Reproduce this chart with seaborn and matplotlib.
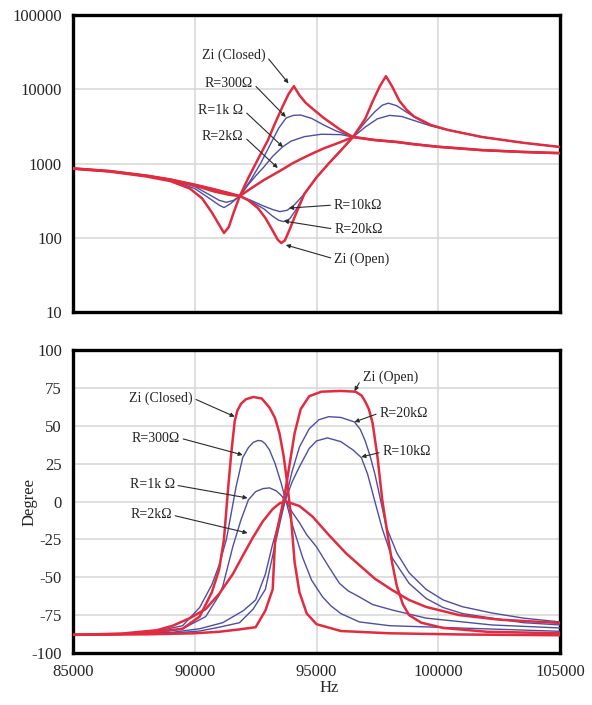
import numpy as np
import pandas as pd
import matplotlib
matplotlib.use("Agg")
import matplotlib.pyplot as plt
import seaborn as sns

# ---------------- impedance magnitude (top panel) ----------------
# frequencies in kHz, magnitudes in ohm
mag_open_f = [85, 86.5, 88, 89, 90, 90.8, 91.4, 91.85, 92.2, 92.6, 92.9, 93.2, 93.4, 93.55,
              93.7, 93.9, 94.1, 94.5, 95.0, 95.5, 96.0, 96.5, 97.0, 97.3, 97.6, 97.85, 98.1,
              98.4, 98.7, 99.0, 99.7, 100.4, 101.8, 103.5, 105]
mag_open = [860, 790, 690, 610, 520, 450, 400, 365, 320, 250, 185, 125, 95, 85,
            92, 130, 190, 390, 650, 1000, 1500, 2275, 4000, 6800, 11000, 15000, 11000,
            7000, 5300, 4300, 3300, 2830, 2275, 1900, 1670]

mag_20k_f = [85, 86.5, 88, 89, 90, 90.8, 91.4, 91.85, 92.3, 92.84, 93.2, 93.45, 93.65, 93.9,
             94.2, 94.5, 95.0, 95.5, 96.0, 96.5, 97.0, 97.4, 97.7, 97.95, 98.3, 98.7, 99.2,
             99.7, 100.4, 101.8, 103.5, 105]
mag_20k = [860, 790, 690, 610, 520, 450, 400, 365, 310, 245, 195, 172, 165, 180,
           250, 385, 650, 1000, 1500, 2275, 3600, 5000, 6100, 6500, 6000, 4900, 3900,
           3250, 2830, 2275, 1900, 1670]

mag_10k_f = [85, 86.5, 88, 89, 90, 90.8, 91.4, 91.85, 92.3, 92.8, 93.2, 93.5, 93.8, 94.1,
             94.5, 95.0, 95.5, 96.0, 96.5, 97.0, 97.5, 98.0, 98.5, 99.0, 99.7, 100.4,
             101.8, 103.5, 105]
mag_10k = [860, 790, 690, 610, 520, 450, 400, 365, 320, 270, 240, 225, 235, 280,
           390, 650, 1000, 1500, 2275, 3100, 4000, 4450, 4300, 3800, 3200, 2830,
           2275, 1900, 1670]

mag_closed_f = [85, 86.5, 88, 89, 89.8, 90.3, 90.7, 91.0, 91.2, 91.4, 91.6, 91.85, 92.2, 92.6,
                93.0, 93.3, 93.6, 93.85, 94.07, 94.3, 94.55, 94.8, 95.3, 96.0, 96.5, 97.4,
                98.3, 99.0, 100.0, 101.8, 103.5, 105]
mag_closed = [850, 780, 670, 580, 460, 340, 220, 150, 116, 140, 220, 365, 640, 1150,
              2050, 3500, 5800, 8600, 11000, 8300, 6600, 5600, 4100, 2820, 2275, 2070,
              1950, 1820, 1680, 1515, 1430, 1380]

mag_300_f = [85, 86.5, 88, 89, 90, 90.6, 91.0, 91.2, 91.45, 91.85, 92.3, 92.7, 93.1, 93.45,
             93.75, 94.05, 94.35, 94.8, 95.3, 95.8, 96.5, 97.4, 98.3, 99.0, 100.0, 101.8,
             103.5, 105]
mag_300 = [855, 785, 680, 600, 460, 340, 275, 255, 285, 365, 600, 1000, 1800, 3000,
           4100, 4450, 4500, 4050, 3300, 2750, 2275, 2070, 1950, 1820, 1680, 1515,
           1430, 1380]

mag_1k_f = [85, 86.5, 88, 89, 90, 90.6, 91.0, 91.3, 91.6, 91.85, 92.2, 92.5, 92.84, 93.2,
            93.6, 93.95, 94.5, 95.2, 96.0, 96.5, 97.4, 98.3, 99.0, 100.0, 101.8, 103.5, 105]
mag_1k = [857, 788, 683, 603, 490, 380, 320, 300, 320, 365, 520, 680, 900, 1250,
          1670, 2000, 2300, 2480, 2450, 2275, 2070, 1950, 1820, 1680, 1515, 1430, 1380]

mag_2k_f = [85, 86.5, 88, 89, 90, 90.8, 91.4, 91.85, 92.3, 92.84, 93.2, 93.54, 94.0, 94.36,
            94.8, 95.3, 96.0, 96.5, 97.4, 98.3, 99.0, 100.0, 101.8, 103.5, 105]
mag_2k = [858, 790, 685, 605, 505, 420, 380, 365, 460, 600, 700, 810, 1000, 1150,
          1350, 1600, 1950, 2275, 2070, 1950, 1820, 1680, 1515, 1430, 1380]

# ---------------- impedance phase (bottom panel) ----------------
ph_closed_f = [85, 87, 88.5, 89.5, 90.2, 90.7, 91.0, 91.2, 91.35, 91.5, 91.64, 91.75, 91.9,
               92.1, 92.4, 92.75, 93.07, 93.3, 93.48, 93.65, 93.8, 93.95, 94.1, 94.3, 94.6,
               95.0, 96.0, 98.0, 101.0, 105.0]
ph_closed = [-88, -87.5, -86, -84, -76, -60, -45, -25, 5, 32, 53, 60, 64.5,
             67.5, 69, 68, 62, 55, 45, 30, 12, -10, -40, -60, -74,
             -81, -85.5, -87, -87.8, -88.3]

ph_300_f = [85, 87, 88.5, 89.5, 90.2, 90.7, 91.0, 91.3, 91.7, 91.97, 92.2, 92.4, 92.6,
            92.75, 92.9, 93.07, 93.3, 93.55, 93.75, 94.0, 94.43, 94.8, 95.25, 95.6, 96.0,
            96.76, 98.0, 100.86, 105.0]
ph_300 = [-88, -87.3, -85.5, -82, -70, -55, -42, -25, 10, 29, 35.5, 39, 40.3,
          40, 38, 34, 25, 12, 0, -15, -37, -52, -63, -69, -74,
          -79.5, -82, -83.5, -85.7]

ph_1k_f = [85, 87, 88.5, 89.5, 90.45, 91.0, 91.15, 91.56, 91.9, 92.2, 92.5, 92.8, 93.07,
           93.35, 93.55, 93.75, 94.0, 94.3, 94.6, 95.0, 95.5, 95.94, 96.3, 96.76, 97.3,
           98.1, 99.5, 102.2, 105.0]
ph_1k = [-88, -87.5, -86.5, -84, -76, -62, -56, -30, -12, 1, 6.5, 8.5, 9,
         7, 4, 0, -7, -14, -22, -30, -43, -54, -59, -63, -68,
         -71.6, -77, -81.5, -83.5]

ph_2k_f = [85, 87, 88.44, 89.1, 89.8, 90.45, 91.0, 91.56, 92.0, 92.38, 92.8, 93.2, 93.5,
           93.75, 94.3, 94.84, 95.5, 96.2, 96.76, 97.4, 98.1, 98.8, 99.5, 100.86, 102.5,
           105.0]
ph_2k = [-88, -87.2, -85, -82, -77, -71, -61, -48, -35, -24, -13, -5, -1,
         0, -3, -10, -22, -34, -42, -51, -58.4, -65, -69.6, -75, -78,
         -80.2]

ph_10k_f = [85, 87, 89, 90.2, 91.15, 92.0, 92.5, 92.9, 93.2, 93.45, 93.7, 94.0, 94.3, 94.7,
            95.0, 95.45, 96.0, 96.5, 96.84, 97.1, 97.38, 97.7, 98.1, 98.8, 99.5, 100.2,
            101.0, 102.2, 103.5, 105.0]
ph_10k = [-88, -87.5, -86.5, -84, -80, -72, -65, -48, -28, -14, 0, 13, 23, 35,
          40, 42, 39.5, 34, 29, 18, 1, -18, -37, -54, -64, -70,
          -74, -77, -80, -81.5]

ph_20k_f = [85, 87, 89, 90.2, 91.0, 91.84, 92.4, 92.9, 93.25, 93.5, 93.7, 94.0, 94.3, 94.7,
            95.1, 95.5, 96.0, 96.56, 96.8, 97.0, 97.2, 97.4, 97.87, 98.3, 98.8, 99.5, 100.2,
            101.0, 102.2, 103.5, 105.0]
ph_20k = [-88, -87.7, -87, -85.5, -83, -80, -71, -58, -32, -14, 0, 20, 36, 48,
          54, 56, 55.5, 52.5, 47.5, 40, 30, 18, -17, -34, -47, -58, -65,
          -69.5, -73.6, -77, -79.5]

ph_open_f = [85, 88, 90, 91, 91.8, 92.5, 92.9, 93.2, 93.3, 93.5, 93.7, 93.9, 94.1, 94.35,
             94.7, 95.2, 96.0, 96.6, 96.85, 97.0, 97.15, 97.3, 97.5, 97.7, 97.9, 98.1, 98.3,
             98.55, 98.8, 99.3, 100.2, 102.0, 105.0]
ph_open = [-88, -87.7, -87, -86, -84.5, -83, -72, -58, -25, -10, 5, 25, 45, 61,
           69.5, 72.5, 73, 72.5, 70, 66, 61, 52, 30, 1, -20, -40, -56,
           -68, -75, -80, -83.5, -86, -87]

series_order = ["R=300Ω", "R=1kΩ", "R=10kΩ", "R=20kΩ", "R=2kΩ", "Zi (Closed)", "Zi (Open)"]

RED = "#e22b3f"
BLUE = "#4d4fa3"
styles = {
    "R=300Ω": (BLUE, 1.0), "R=1kΩ": (BLUE, 1.0), "R=10kΩ": (BLUE, 1.0), "R=20kΩ": (BLUE, 1.0),
    "R=2kΩ": (RED, 1.8), "Zi (Closed)": (RED, 1.8), "Zi (Open)": (RED, 1.8),
}

mag_data = {
    "R=300Ω": (mag_300_f, mag_300), "R=1kΩ": (mag_1k_f, mag_1k),
    "R=10kΩ": (mag_10k_f, mag_10k), "R=20kΩ": (mag_20k_f, mag_20k),
    "R=2kΩ": (mag_2k_f, mag_2k), "Zi (Closed)": (mag_closed_f, mag_closed),
    "Zi (Open)": (mag_open_f, mag_open),
}
ph_data = {
    "R=300Ω": (ph_300_f, ph_300), "R=1kΩ": (ph_1k_f, ph_1k),
    "R=10kΩ": (ph_10k_f, ph_10k), "R=20kΩ": (ph_20k_f, ph_20k),
    "R=2kΩ": (ph_2k_f, ph_2k), "Zi (Closed)": (ph_closed_f, ph_closed),
    "Zi (Open)": (ph_open_f, ph_open),
}

def long_frame(data):
    rows = []
    for name, (f, v) in data.items():
        rows.append(pd.DataFrame({"Hz": np.asarray(f) * 1000.0, "value": v, "series": name}))
    return pd.concat(rows, ignore_index=True)

mag_df = long_frame(mag_data)
ph_df = long_frame(ph_data)

sns.set_style("white")
plt.rcParams["font.family"] = ["Liberation Serif", "DejaVu Serif"]
plt.rcParams["axes.unicode_minus"] = False

fig = plt.figure(figsize=(5.92, 7.05), dpi=100)
ax1 = fig.add_axes([0.1233, 0.5574, 0.8227, 0.4213])
ax2 = fig.add_axes([0.1233, 0.0738, 0.8227, 0.4297])

GRID = "#d6d6d6"
for ax, df in ((ax1, mag_df), (ax2, ph_df)):
    for name in series_order:
        sub = df[df["series"] == name]
        col, lw = styles[name]
        sns.lineplot(data=sub, x="Hz", y="value", ax=ax, color=col, lw=lw,
                     sort=False, estimator=None, legend=False, zorder=3)
    ax.set_xlim(85000, 105000)
    ax.set_xticks([85000, 90000, 95000, 100000, 105000])
    ax.grid(True, color=GRID, lw=1.1, zorder=0)
    ax.set_axisbelow(True)
    for sp in ax.spines.values():
        sp.set_visible(True)
        sp.set_color("black")
        sp.set_linewidth(2.4)
    ax.tick_params(length=0, labelsize=12, pad=8)
    ax.set_xlabel("")
    ax.set_ylabel("")

# top: log magnitude
ax1.set_yscale("log")
ax1.set_ylim(10, 100000)
ax1.set_yticks([10, 100, 1000, 10000, 100000])
ax1.set_yticklabels(["10", "100", "1000", "10000", "100000"])
ax1.minorticks_off()
ax1.set_xticklabels([])

# bottom: phase
ax2.set_ylim(-100, 100)
ax2.set_yticks([-100, -75, -50, -25, 0, 25, 50, 75, 100])
ax2.set_xticklabels(["85000", "90000", "95000", "100000", "105000"])
ax2.set_ylabel("Degree", fontsize=12)
ax2.yaxis.set_label_coords(-0.072, 0.5)
ax2.set_xlabel("Hz", fontsize=12, labelpad=-2)
ax2.xaxis.set_label_coords(0.527, -0.09)

arrow_kw = dict(arrowstyle="-|>", color="#2b2b2b", lw=0.8, mutation_scale=6,
                shrinkA=0, shrinkB=0)

def note(ax, text, tip, at, side):
    ha = "right" if side == "left" else "left"
    rel = (1.0, 0.5) if side == "left" else (0.0, 0.5)
    ax.annotate(text, xy=tip, xytext=at, ha=ha, va="center", fontsize=10,
                color="#222222", zorder=5,
                arrowprops=dict(relpos=rel, **arrow_kw))

note(ax1, "Zi (Closed)", (93850, 12000), (92900, 29000), "left")
note(ax1, "R=300Ω", (93740, 4230), (92380, 12100), "left")
note(ax1, "R=1k Ω", (93620, 1670), (92000, 5250), "left")
note(ax1, "R=2kΩ", (93410, 870), (92000, 2340), "left")
note(ax1, "R=10kΩ", (93870, 251), (95700, 276), "right")
note(ax1, "R=20kΩ", (93660, 168), (95720, 131), "right")
note(ax1, "Zi (Open)", (93740, 80), (95720, 52), "right")

note(ax2, "Zi (Closed)", (91640, 56), (89920, 68.3), "left")
note(ax2, "R=300Ω", (91970, 30.7), (89390, 41.9), "left")
note(ax2, "R=1k Ω", (92170, 2.3), (89180, 10.9), "left")
note(ax2, "R=2kΩ", (92170, -20.8), (89060, -8.9), "left")
note(ax2, "Zi (Open)", (96560, 72.9), (96890, 82.2), "right")
note(ax2, "R=20kΩ", (96560, 52.5), (97580, 58.4), "right")
note(ax2, "R=10kΩ", (96840, 29.4), (97700, 32.7), "right")

fig.savefig("out.png", dpi=100)
